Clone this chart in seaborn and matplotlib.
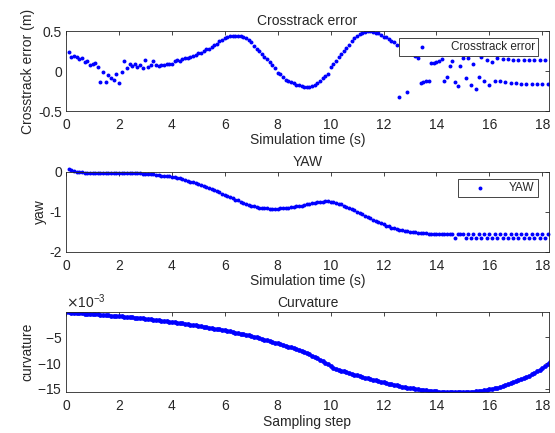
import numpy as np
import pandas as pd
import matplotlib
matplotlib.use('Agg')
import matplotlib.pyplot as plt
from matplotlib.ticker import FuncFormatter, ScalarFormatter
import seaborn as sns

# crosstrack error (m), one value every 0.1 s starting at 0.1 s
crosstrack = [
    0.24, 0.18, 0.19, 0.18, 0.15, 0.16, 0.11, 0.13, 0.08, 0.09,
    0.10, 0.05, -0.14, -0.01, -0.14, -0.05, -0.09, -0.11, -0.04, -0.15,
    -0.01, 0.13, 0.04, 0.09, 0.06, 0.09, 0.05, 0.08, 0.04, 0.14,
    0.05, 0.08, 0.13, 0.07, 0.06, 0.07, 0.08, 0.09, 0.09, 0.09,
    0.12, 0.14, 0.12, 0.15, 0.16, 0.16, 0.17, 0.19, 0.20, 0.22,
    0.23, 0.25, 0.27, 0.28, 0.30, 0.32, 0.34, 0.37, 0.39, 0.41,
    0.43, 0.44, 0.44, 0.44, 0.44, 0.44, 0.43, 0.41, 0.39, 0.36,
    0.31, 0.28, 0.25, 0.21, 0.18, 0.15, 0.11, 0.07, 0.04, -0.03,
    -0.04, -0.08, -0.11, -0.12, -0.14, -0.15, -0.17, -0.18, -0.19, -0.20,
    -0.20, -0.20, -0.19, -0.17, -0.15, -0.13, -0.09, -0.06, -0.04, 0.05,
    0.09, 0.13, 0.17, 0.21, 0.25, 0.29, 0.33, 0.37, 0.41, 0.44,
    0.46, 0.48, 0.49, 0.50, 0.50, 0.49, 0.48, 0.47, 0.45, 0.43,
    0.42, 0.40, 0.38, 0.36, 0.33, -0.32, 0.30, 0.27, -0.26, 0.24,
    0.22, 0.19, 0.16, -0.15, -0.14, -0.13, -0.12, 0.10, 0.10, 0.11,
    0.13, 0.15, -0.12, -0.08, 0.06, 0.12, -0.14, -0.19, 0.06, 0.16,
    -0.09, 0.16, -0.18, 0.09, -0.22, -0.08, 0.17, -0.13, 0.14, -0.18,
    0.11, -0.12, 0.16, -0.13, 0.15, -0.14, 0.15, -0.15, 0.14, -0.15,
    0.14, -0.16, 0.14, -0.16, 0.14, -0.16, 0.14, -0.16, 0.14, -0.16,
    0.14, -0.16,
]

# yaw, same time grid
yaw = [
    0.06, 0.03, 0.01, -0.01, -0.02, -0.02, -0.03, -0.03, -0.03, -0.03,
    -0.03, -0.03, -0.03, -0.03, -0.03, -0.03, -0.03, -0.03, -0.03, -0.03,
    -0.03, -0.03, -0.03, -0.03, -0.03, -0.03, -0.04, -0.04, -0.05, -0.05,
    -0.06, -0.06, -0.07, -0.08, -0.09, -0.10, -0.10, -0.11, -0.12, -0.13,
    -0.14, -0.16, -0.17, -0.19, -0.21, -0.23, -0.25, -0.27, -0.29, -0.31,
    -0.33, -0.36, -0.38, -0.41, -0.43, -0.46, -0.49, -0.52, -0.55, -0.58,
    -0.61, -0.64, -0.67, -0.70, -0.72, -0.75, -0.78, -0.80, -0.83, -0.85,
    -0.87, -0.88, -0.90, -0.91, -0.92, -0.92, -0.93, -0.93, -0.93, -0.93,
    -0.92, -0.92, -0.91, -0.90, -0.89, -0.88, -0.87, -0.86, -0.85, -0.83,
    -0.82, -0.80, -0.79, -0.78, -0.77, -0.76, -0.75, -0.74, -0.74, -0.75,
    -0.76, -0.78, -0.80, -0.82, -0.85, -0.88, -0.91, -0.94, -0.97, -1.01,
    -1.04, -1.07, -1.11, -1.14, -1.17, -1.20, -1.23, -1.26, -1.29, -1.32,
    -1.35, -1.37, -1.40, -1.42, -1.44, -1.45, -1.47, -1.48, -1.49, -1.50,
    -1.51, -1.52, -1.53, -1.53, -1.54, -1.54, -1.55, -1.55, -1.55, -1.56,
    -1.56, -1.56, -1.56, -1.56, -1.56, -1.57, -1.66, -1.56, -1.56, -1.56,
    -1.66, -1.56, -1.66, -1.56, -1.66, -1.56, -1.66, -1.56, -1.66, -1.56,
    -1.66, -1.56, -1.66, -1.56, -1.66, -1.56, -1.66, -1.56, -1.66, -1.56,
    -1.66, -1.56, -1.66, -1.56, -1.66, -1.56, -1.66, -1.56, -1.66, -1.56,
    -1.66, -1.56,
]

# curvature in units of 1e-3, one value every 0.1 starting at 0
curvature_e3 = [
    -0.10, -0.13, -0.16, -0.20, -0.23, -0.27, -0.30, -0.34, -0.37, -0.41, -0.45,
    -0.49, -0.53, -0.57, -0.61, -0.65, -0.69, -0.73, -0.77, -0.81, -0.86,
    -0.91, -0.96, -1.01, -1.06, -1.11, -1.16, -1.21, -1.26, -1.31, -1.37,
    -1.43, -1.49, -1.55, -1.61, -1.67, -1.73, -1.79, -1.86, -1.93, -2.00,
    -2.07, -2.14, -2.21, -2.28, -2.35, -2.43, -2.51, -2.59, -2.67, -2.75,
    -2.83, -2.91, -3.00, -3.09, -3.18, -3.27, -3.36, -3.45, -3.54, -3.64,
    -3.74, -3.84, -3.94, -4.05, -4.16, -4.27, -4.38, -4.50, -4.62, -4.74,
    -4.87, -5.00, -5.13, -5.27, -5.41, -5.55, -5.70, -5.85, -6.00, -6.16,
    -6.30, -6.45, -6.60, -6.78, -6.96, -7.14, -7.32, -7.50, -7.68, -7.86,
    -8.08, -8.30, -8.54, -8.78, -9.04, -9.30, -9.58, -9.90, -10.24, -10.60,
    -10.95, -11.15, -11.32, -11.48, -11.63, -11.78, -11.93, -12.08, -12.23, -12.38,
    -12.53, -12.68, -12.83, -12.97, -13.11, -13.25, -13.39, -13.52, -13.65, -13.78,
    -13.90, -14.02, -14.14, -14.25, -14.36, -14.47, -14.57, -14.67, -14.77, -14.86,
    -14.95, -15.03, -15.11, -15.18, -15.25, -15.32, -15.38, -15.44, -15.49, -15.53,
    -15.57, -15.60, -15.63, -15.65, -15.67, -15.68, -15.69, -15.69, -15.69, -15.68,
    -15.66, -15.64, -15.61, -15.57, -15.52, -15.46, -15.39, -15.31, -15.22, -15.12,
    -15.01, -14.89, -14.76, -14.62, -14.47, -14.31, -14.14, -13.96, -13.77, -13.57,
    -13.36, -13.14, -12.91, -12.67, -12.42, -12.16, -11.89, -11.58, -11.26, -10.92,
    -10.58, -10.22, -9.85,
]

sim_time = np.round(np.arange(1, len(crosstrack) + 1) * 0.1, 1)
sample_step = np.round(np.arange(len(curvature_e3)) * 0.1, 1)

df_cte = pd.DataFrame({'t': sim_time, 'v': crosstrack})
df_yaw = pd.DataFrame({'t': sim_time, 'v': yaw})
df_curv = pd.DataFrame({'t': sample_step, 'v': np.array(curvature_e3) * 1e-3})

sns.set_style('white')
plt.rcParams['font.family'] = ['Liberation Sans', 'DejaVu Sans']
plt.rcParams['axes.unicode_minus'] = False
plt.rcParams['font.size'] = 10

GRAY = '#262626'
fig = plt.figure(figsize=(5.55, 4.33), dpi=100)
ax1 = fig.add_axes([0.119, 0.7436, 0.870, 0.1848])
ax2 = fig.add_axes([0.119, 0.4190, 0.870, 0.1848])
ax3 = fig.add_axes([0.119, 0.0940, 0.870, 0.1848])

sns.scatterplot(data=df_cte, x='t', y='v', ax=ax1, color='blue', marker='o',
                s=8, linewidth=0, label='Crosstrack error')
sns.scatterplot(data=df_yaw, x='t', y='v', ax=ax2, color='blue', marker='o',
                s=8, linewidth=0, label='YAW', clip_on=False)
sns.scatterplot(data=df_curv, x='t', y='v', ax=ax3, color='blue', marker='o',
                s=12, linewidth=0)

g_fmt = FuncFormatter(lambda v, p: '%g' % v)
for ax in (ax1, ax2, ax3):
    ax.set_xlim(0, 18.25)
    ax.set_xticks(range(0, 19, 2))
    for sp in ax.spines.values():
        sp.set_visible(True)
        sp.set_color(GRAY)
        sp.set_linewidth(0.6)
    ax.tick_params(direction='in', top=True, right=True, length=3, width=0.6,
                   color=GRAY, labelcolor=GRAY, labelsize=10, pad=3)
    ax.tick_params(axis='x', pad=5)

ax1.set_ylim(-0.5, 0.5)
ax1.set_yticks([-0.5, 0, 0.5])
ax1.yaxis.set_major_formatter(g_fmt)
ax1.set_title('Crosstrack error', fontsize=10, pad=4)
ax1.set_xlabel('Simulation time (s)', fontsize=10, color=GRAY, labelpad=1)
ax1.set_ylabel('Crosstrack error (m)', fontsize=10, color=GRAY, labelpad=2)

ax2.set_ylim(-2, 0)
ax2.set_yticks([-2, -1, 0])
ax2.yaxis.set_major_formatter(g_fmt)
ax2.set_title('YAW', fontsize=10, pad=4)
ax2.set_xlabel('Simulation time (s)', fontsize=10, color=GRAY, labelpad=1)
ax2.set_ylabel('yaw', fontsize=10, color=GRAY, labelpad=2)

curv = df_curv['v']
ax3.set_ylim(curv.min(), curv.max())
ax3.set_yticks([-15e-3, -10e-3, -5e-3])
fmt = ScalarFormatter(useMathText=True)
fmt.set_powerlimits((-3, -3))
ax3.yaxis.set_major_formatter(fmt)
ax3.yaxis.get_offset_text().set_color(GRAY)
ax3.yaxis.get_offset_text().set_fontsize(10)
ax3.set_title('Curvature', fontsize=10, pad=4)
ax3.set_xlabel('Sampling step', fontsize=10, color=GRAY, labelpad=1)
ax3.set_ylabel('curvature', fontsize=10, color=GRAY, labelpad=2)

for ax in (ax1, ax2):
    leg = ax.legend(loc='upper right', bbox_to_anchor=(0.977, 0.91), borderaxespad=0,
                    fancybox=False, framealpha=1, edgecolor=GRAY, fontsize=8.5,
                    handlelength=3.3, borderpad=0.25, handletextpad=0.8)
    leg.get_frame().set_linewidth(0.6)
    for txt in leg.get_texts():
        txt.set_color(GRAY)

fig.savefig('out.png', dpi=100)
